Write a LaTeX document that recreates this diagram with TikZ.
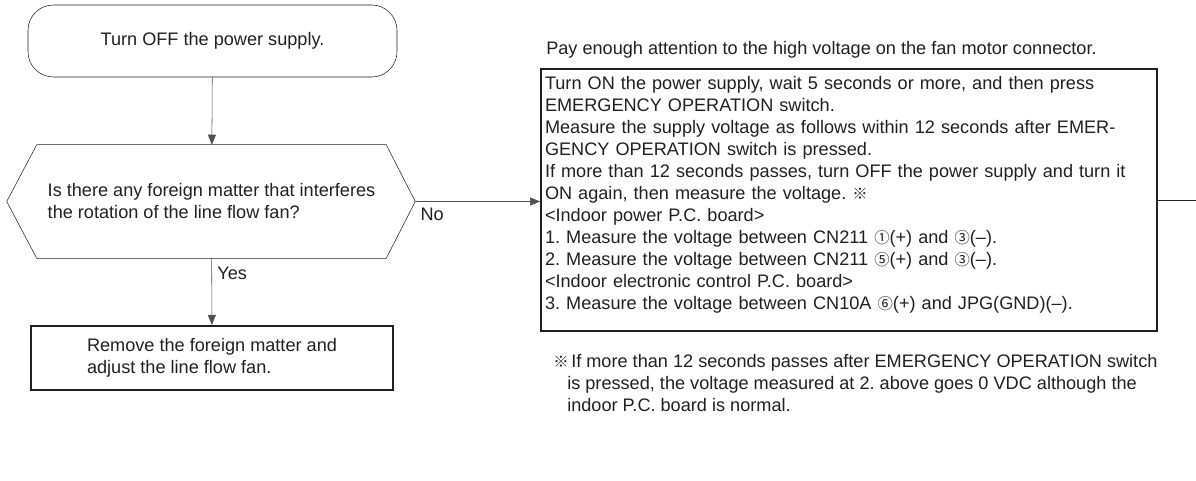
\documentclass[tikz,border=0pt]{standalone}
\usepackage{fontspec}
\setmainfont{Liberation Sans}
\newfontfamily\cjk{Noto Sans CJK JP}
\usetikzlibrary{arrows.meta,positioning,calc}
\definecolor{Ink}{HTML}{231F20}
\definecolor{Wire}{HTML}{505050}
\newcommand{\flowfont}{\fontsize{13.6pt}{16.5pt}\selectfont\frenchspacing}
\newcommand{\mk}[1]{{\cjk\fontsize{11.5pt}{16.5pt}\selectfont #1}}
\tikzset{
 termbox/.style={draw=Ink, rounded corners=19pt, minimum width=276.75pt, minimum height=54pt, font=\flowfont, text=Ink},
 querybox/.style={draw=none, minimum width=261.75pt, minimum height=84.75pt, align=left, inner sep=0pt, font=\flowfont, text=Ink},
 procbox/.style={draw=Ink, line width=1.6pt, minimum width=271.5pt, minimum height=48pt, align=left, font=\flowfont, text=Ink},
 checkbox/.style={draw=Ink, line width=1.3pt, minimum width=462pt, minimum height=196.5pt, text width=456pt, inner sep=3pt, align=left, font=\flowfont, text=Ink},
 plain/.style={inner sep=0pt, align=left, font=\flowfont, text=Ink},
 arrow/.style={-{Triangle[length=7.5pt,width=6pt]}, draw=Wire},
 wire/.style={draw=Ink}
}

\begin{document}
\begin{tikzpicture}[x=0.75pt,y=-0.75pt]
\useasboundingbox (0,0) rectangle (1196,481);
\node[termbox] (off) at (212.5,41) {Turn OFF the power supply.};
\node[querybox] (query) at (211.5,201.5) {Is there any foreign matter that interferes\\the rotation of the line flow fan?};
\coordinate (qw) at ($(query.west)+(-30,0)$);
\coordinate (qe) at ($(query.east)+(29,0)$);
\draw[wire] (query.north west) -- (query.north east) -- (qe) -- (query.south east) -- (query.south west) -- (qw) -- cycle;
\node[procbox] (remove) at (212,358) {Remove the foreign matter and\\adjust the line flow fan.};
\node[checkbox] (check) at (849,200) {Turn ON the power supply, wait 5 seconds or more, and then press\\
EMERGENCY OPERATION switch.\\
Measure the supply voltage as follows within 12 seconds after EMER-\\
GENCY OPERATION switch is pressed.\\
If more than 12 seconds passes, turn OFF the power supply and turn it\\
ON again, then measure the voltage. \mk{※}\\
<Indoor power P.C. board>\\
1. Measure the voltage between CN211 \mk{①}(+) and \mk{③}(–).\\
2. Measure the voltage between CN211 \mk{⑤}(+) and \mk{③}(–).\\
<Indoor electronic control P.C. board>\\
3. Measure the voltage between CN10A \mk{⑥}(+) and JPG(GND)(–).\rule[-11pt]{0pt}{11pt}};
\node[plain, anchor=west] (caution) at (546,50) {Pay enough attention to the high voltage on the fan motor connector.};
\node[plain, anchor=west] (note) at (553,383) {\mk{※}\hspace{2pt}If more than 12 seconds passes after EMERGENCY OPERATION switch\\
\hspace*{10.5pt}is pressed, the voltage measured at 2. above goes 0 VDC although the\\
\hspace*{10.5pt}indoor P.C. board is normal.};
\coordinate (exit) at (1196,200);
% flow
\draw[arrow] (off) -- (query);
\draw[arrow] (query) -- node[plain, pos=0.22, right=4pt] {Yes} (remove);
\draw[arrow] (qe) -- node[plain, pos=0.04, below right=5pt and 0pt] {No} (qe -| check.west);
\draw[wire] (check.east |- exit) -- (exit);
\end{tikzpicture}
\end{document}
